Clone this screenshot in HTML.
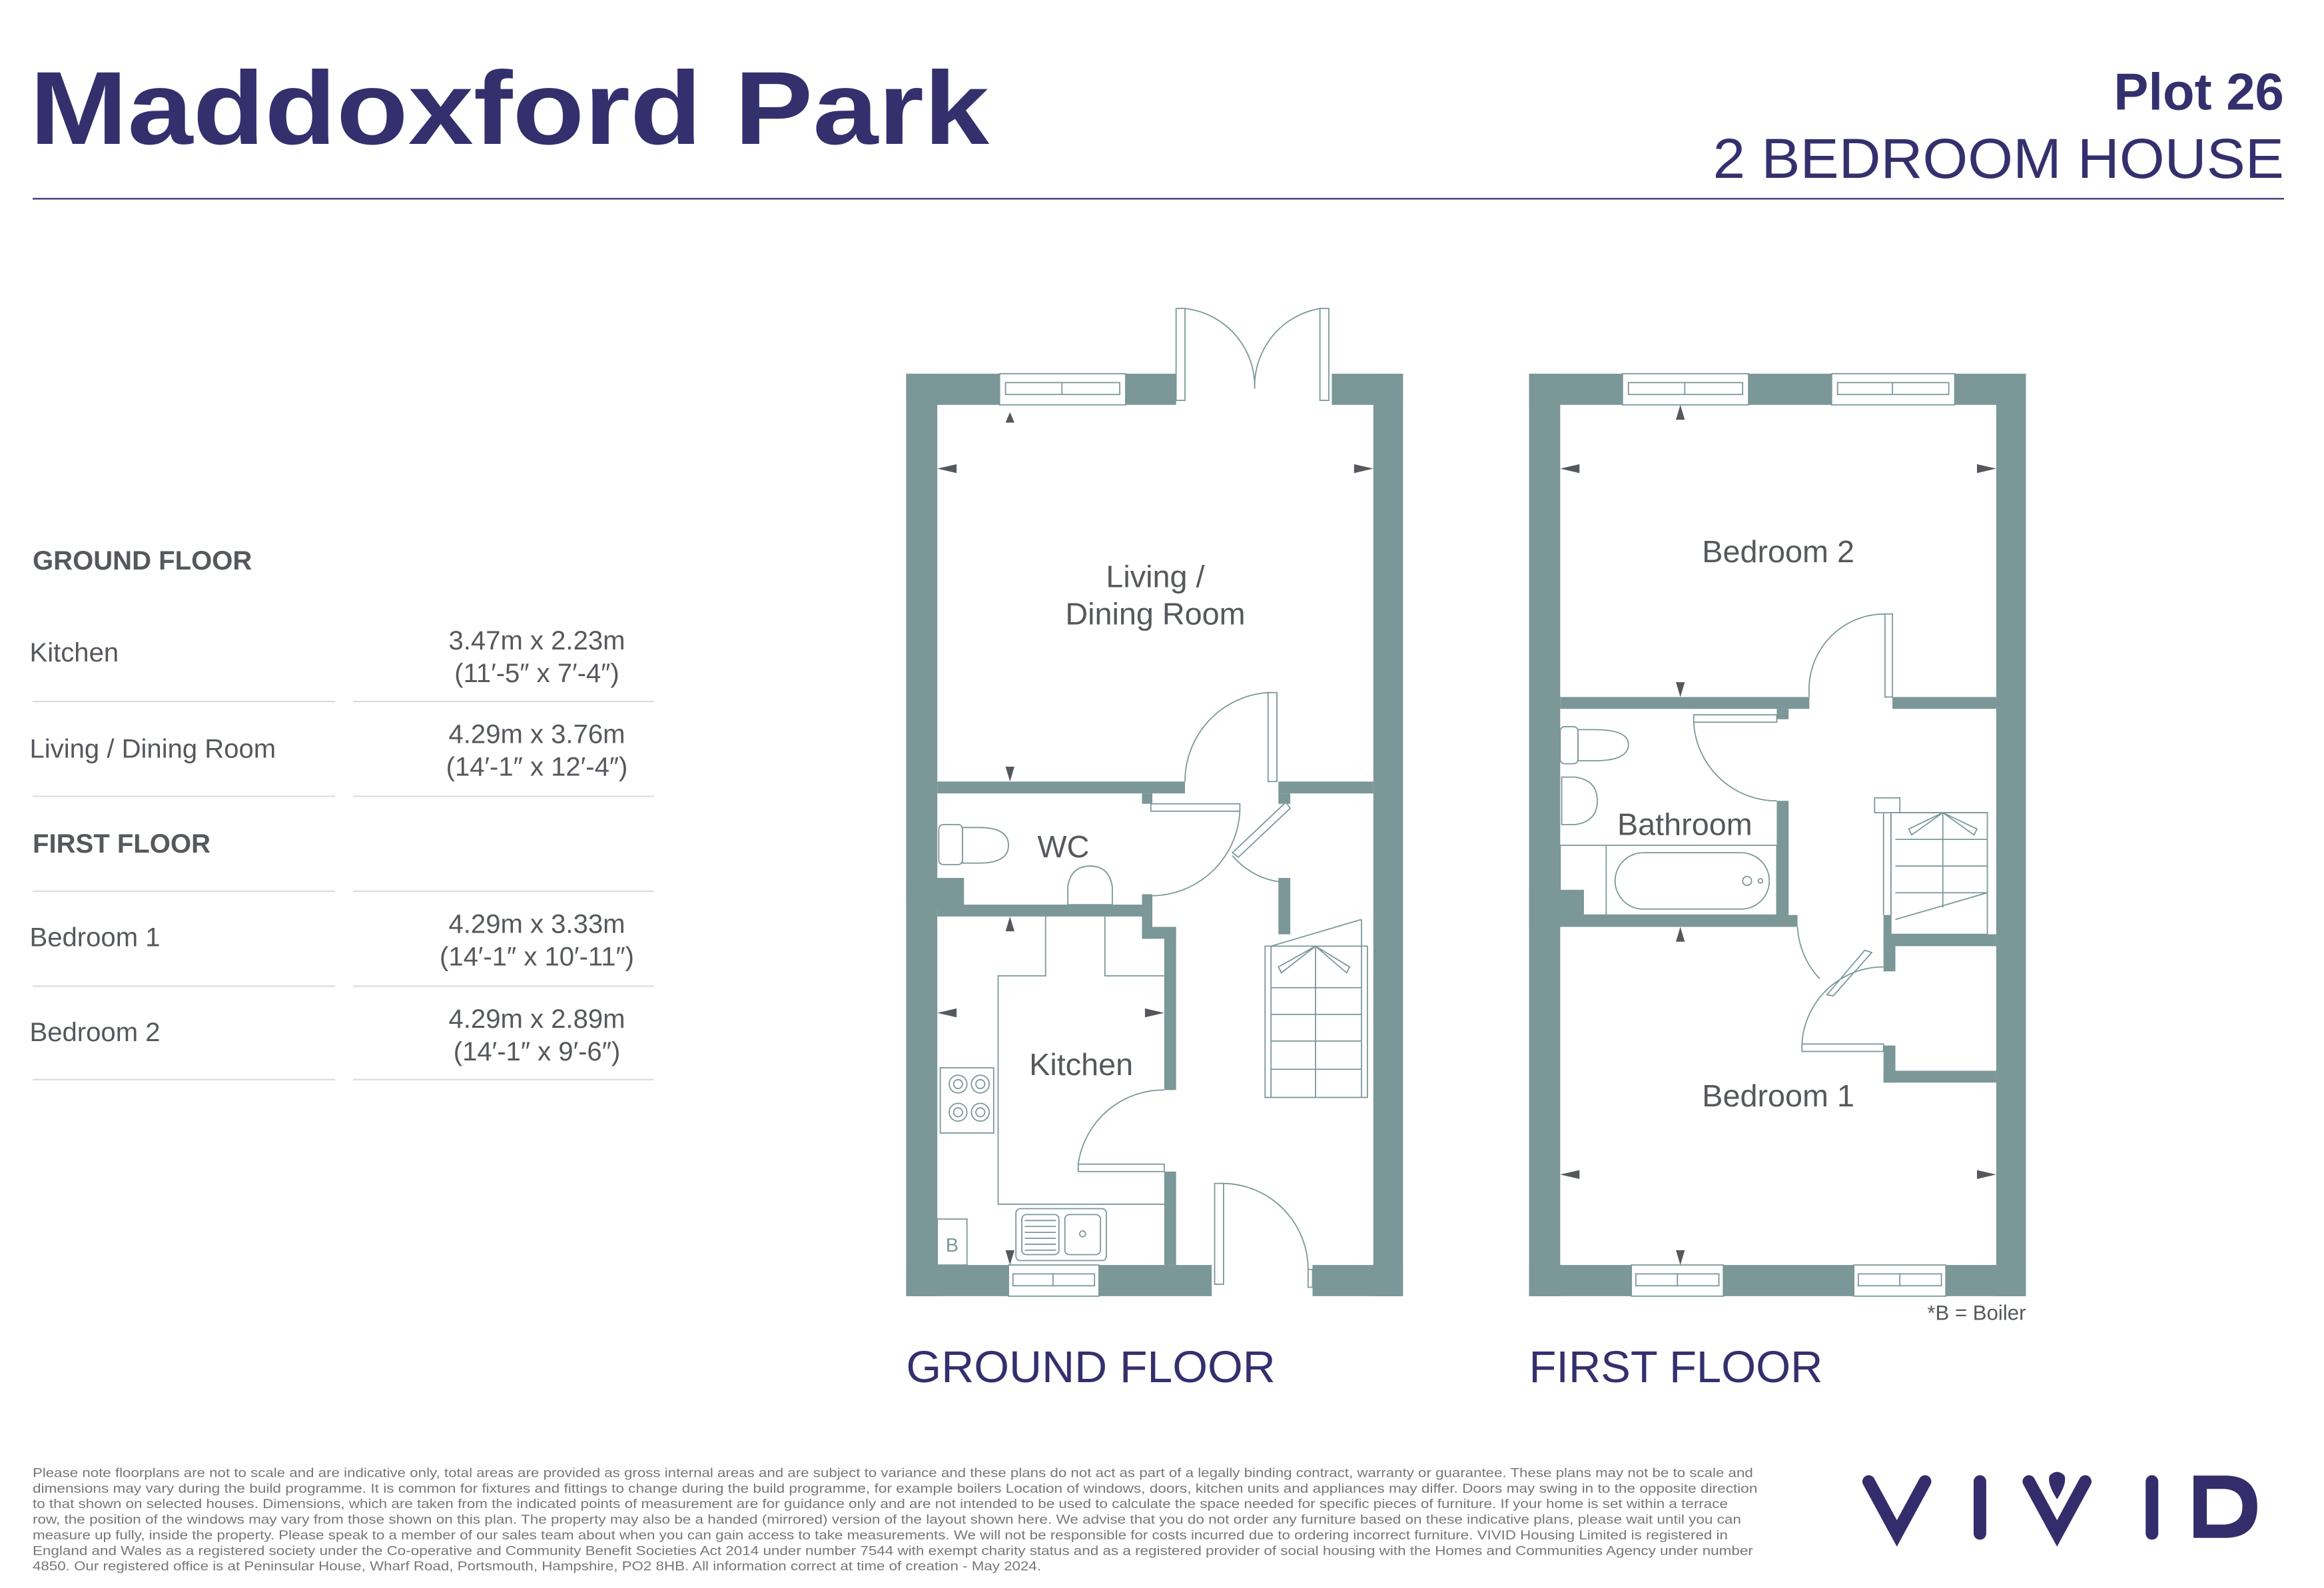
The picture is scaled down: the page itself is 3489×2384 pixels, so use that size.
<!DOCTYPE html>
<html><head><meta charset="utf-8"><style>html,body{margin:0;padding:0;background:#fff}svg{display:block}</style></head>
<body>
<svg xmlns="http://www.w3.org/2000/svg" width="3489" height="2384" viewBox="0 0 1567 1070.8" preserveAspectRatio="none">
<defs>
<style>
.w{fill:#7b9797}
.l{fill:none;stroke:#7b9797;stroke-width:0.8}
.lw{fill:#fff;stroke:#7b9797;stroke-width:0.8}
.a{fill:#55585c}
.t{font-family:"Liberation Sans",sans-serif;fill:#55585c}
.n{font-family:"Liberation Sans",sans-serif;fill:#34306e}
</style>
</defs>
<rect width="1570" height="1072" fill="#fff"/>
<text class="n" x="20" y="97" font-size="70" font-weight="bold" textLength="647" lengthAdjust="spacingAndGlyphs">Maddoxford Park</text>
<text class="n" x="1540" y="74" font-size="35" font-weight="bold" text-anchor="end">Plot 26</text>
<text class="n" x="1540" y="120" font-size="38" text-anchor="end" textLength="385" lengthAdjust="spacingAndGlyphs">2 BEDROOM HOUSE</text>
<line x1="22" y1="134" x2="1540" y2="134" stroke="#34306e" stroke-width="1"/>

<g class="t" font-size="18">
<text x="22" y="384" font-weight="bold" font-size="18">GROUND FLOOR</text>
<text x="20" y="446">Kitchen</text>
<text x="362" y="438" text-anchor="middle">3.47m x 2.23m</text>
<text x="362" y="460" text-anchor="middle">(11′-5″ x 7′-4″)</text>
<text x="20" y="511">Living / Dining Room</text>
<text x="362" y="501" text-anchor="middle">4.29m x 3.76m</text>
<text x="362" y="523" text-anchor="middle">(14′-1″ x 12′-4″)</text>
<text x="22" y="575" font-weight="bold">FIRST FLOOR</text>
<text x="20" y="638">Bedroom 1</text>
<text x="362" y="629" text-anchor="middle">4.29m x 3.33m</text>
<text x="362" y="651" text-anchor="middle">(14′-1″ x 10′-11″)</text>
<text x="20" y="702">Bedroom 2</text>
<text x="362" y="693" text-anchor="middle">4.29m x 2.89m</text>
<text x="362" y="715" text-anchor="middle">(14′-1″ x 9′-6″)</text>
</g>
<g stroke="#ddd" stroke-width="1">
<line x1="22" y1="473" x2="226" y2="473"/><line x1="238" y1="473" x2="441" y2="473"/>
<line x1="22" y1="537" x2="226" y2="537"/><line x1="238" y1="537" x2="441" y2="537"/>
<line x1="22" y1="601" x2="226" y2="601"/><line x1="238" y1="601" x2="441" y2="601"/>
<line x1="22" y1="665" x2="226" y2="665"/><line x1="238" y1="665" x2="441" y2="665"/>
<line x1="22" y1="728" x2="226" y2="728"/><line x1="238" y1="728" x2="441" y2="728"/>
</g>

<g>
<rect class="w" x="611" y="252" width="182" height="21"/>
<rect class="w" x="898" y="252" width="48" height="21"/>
<rect class="w" x="611" y="252" width="21" height="622"/>
<rect class="w" x="926" y="252" width="20" height="622"/>
<rect class="w" x="611" y="853" width="206" height="21"/>
<rect class="w" x="885" y="853" width="61" height="21"/>
<rect class="lw" x="674" y="252" width="85" height="21"/>
<rect class="l" x="678" y="258" width="77" height="8"/><line class="l" x1="716" y1="258" x2="716" y2="266"/>
<rect class="lw" x="680" y="853" width="61" height="21"/>
<rect class="l" x="683" y="859" width="55" height="8"/><line class="l" x1="710" y1="859" x2="710" y2="867"/>
<rect class="lw" x="793" y="208" width="6" height="62"/>
<rect class="lw" x="890" y="208" width="6" height="62"/>
<path class="l" d="M799 208 A53 53 0 0 1 846 262"/>
<path class="l" d="M890 208 A53 53 0 0 0 846 262"/>
<rect class="w" x="632" y="527" width="167" height="8"/>
<rect class="w" x="862" y="527" width="64" height="8"/>
<rect class="w" x="770" y="535" width="7" height="7"/>
<rect class="w" x="862" y="535" width="8" height="7"/>
<rect class="lw" x="855" y="467" width="6" height="60"/>
<path class="l" d="M855 467 A60 60 0 0 0 799 527"/>
<rect class="lw" x="776" y="542" width="60" height="5"/>
<path class="l" d="M836 547 A60 60 0 0 1 776 604"/>
<path class="lw" d="M867 541 L870 545 L835 578 L831 575 Z"/>
<path class="l" d="M831 577 A50 50 0 0 0 868 595"/>
<rect class="w" x="862" y="592" width="8" height="38"/>
<rect class="w" x="611" y="592" width="39" height="20"/>
<rect class="w" x="632" y="610" width="145" height="8"/>
<rect class="w" x="770" y="603" width="7" height="30"/>
<rect class="w" x="770" y="625" width="23" height="8"/>
<rect class="w" x="785" y="625" width="8" height="110"/>
<rect class="w" x="785" y="790" width="8" height="63"/>
<rect class="lw" x="727" y="785" width="58" height="5"/>
<path class="l" d="M727 785 A58 58 0 0 1 785 735"/>
<rect class="lw" x="819" y="798" width="6" height="68"/>
<path class="l" d="M825 798 A58 58 0 0 1 882 856"/>
<rect class="lw" x="882" y="856" width="3" height="12"/>
<path class="l" d="M785 812 L673 812 L673 658 L705 658 L705 618 M745 618 L745 658 L785 658"/>
<rect class="lw" x="634" y="720" width="36" height="44"/>
<circle class="l" cx="646" cy="731" r="6"/><circle class="l" cx="646" cy="731" r="3"/>
<circle class="l" cx="661" cy="731" r="6"/><circle class="l" cx="661" cy="731" r="3"/>
<circle class="l" cx="646" cy="750" r="6"/><circle class="l" cx="646" cy="750" r="3"/>
<circle class="l" cx="661" cy="750" r="6"/><circle class="l" cx="661" cy="750" r="3"/>
<rect class="lw" x="632" y="822" width="20" height="31"/>
<text x="642" y="844" font-family="Liberation Sans,sans-serif" font-size="13" fill="#7b9797" text-anchor="middle">B</text>
<rect class="lw" x="685" y="815" width="61" height="35" rx="3"/>
<rect class="l" x="689" y="819" width="25" height="27" rx="3"/>
<rect class="l" x="718" y="819" width="24" height="27" rx="3"/>
<g class="l"><line x1="691" y1="823" x2="712" y2="823"/><line x1="691" y1="827" x2="712" y2="827"/><line x1="691" y1="831" x2="712" y2="831"/><line x1="691" y1="835" x2="712" y2="835"/><line x1="691" y1="839" x2="712" y2="839"/><line x1="691" y1="843" x2="712" y2="843"/></g>
<circle class="l" cx="730" cy="832" r="2"/>
<rect class="lw" x="633" y="556" width="16" height="27" rx="3"/>
<path class="lw" d="M649 558 L660 558 Q680 558 680 570 Q680 582 660 582 L649 582 Z"/>
<path class="lw" d="M720 610 L720 598 Q722 584 735 584 Q748 584 750 598 L750 610 Z"/>
<rect class="lw" x="853" y="638" width="69" height="102"/>
<line class="l" x1="857" y1="638" x2="857" y2="740"/>
<line class="l" x1="918" y1="620" x2="918" y2="740"/>
<line class="l" x1="857" y1="638" x2="918" y2="620"/>
<line class="l" x1="887" y1="638" x2="887" y2="740"/>
<g class="l"><line x1="857" y1="666" x2="918" y2="666"/><line x1="857" y1="684" x2="918" y2="684"/><line x1="857" y1="702" x2="918" y2="702"/><line x1="857" y1="721" x2="918" y2="721"/></g>
<path class="l" d="M887 638 L862 652 L864 656 Z M887 638 L910 652 L908 656 Z"/>
<path class="a" d="M681 285 L678 278 L684 278 Z" transform="rotate(180 681 281.5)"/>
<path class="a" d="M678 527 L684 527 L681 517 Z" transform="rotate(180 681 522)"/>
<path class="a" d="M632 316 L645 313 L645 319 Z"/>
<path class="a" d="M926 316 L913 313 L913 319 Z"/>
<path class="a" d="M681 618 L678 628 L684 628 Z"/>
<path class="a" d="M681 853 L678 843 L684 843 Z"/>
<path class="a" d="M632 683 L645 680 L645 686 Z"/>
<path class="a" d="M785 683 L772 680 L772 686 Z"/>
<text class="t" x="779" y="396" font-size="21" text-anchor="middle">Living /</text>
<text class="t" x="779" y="421" font-size="21" text-anchor="middle">Dining Room</text>
<text class="t" x="717" y="578" font-size="21" text-anchor="middle">WC</text>
<text class="t" x="729" y="725" font-size="21" text-anchor="middle">Kitchen</text>
</g>

<g>
<rect class="w" x="1031" y="252" width="335" height="21"/>
<rect class="w" x="1031" y="252" width="21" height="622"/>
<rect class="w" x="1346" y="252" width="20" height="622"/>
<rect class="w" x="1031" y="853" width="335" height="21"/>
<rect class="lw" x="1094" y="252" width="85" height="21"/>
<rect class="l" x="1098" y="258" width="77" height="8"/><line class="l" x1="1136" y1="258" x2="1136" y2="266"/>
<rect class="lw" x="1235" y="252" width="83" height="21"/>
<rect class="l" x="1239" y="258" width="75" height="8"/><line class="l" x1="1276" y1="258" x2="1276" y2="266"/>
<rect class="lw" x="1100" y="853" width="62" height="21"/>
<rect class="l" x="1103" y="859" width="56" height="8"/><line class="l" x1="1131" y1="859" x2="1131" y2="867"/>
<rect class="lw" x="1250" y="853" width="62" height="21"/>
<rect class="l" x="1253" y="859" width="56" height="8"/><line class="l" x1="1281" y1="859" x2="1281" y2="867"/>
<rect class="w" x="1052" y="470" width="168" height="8"/>
<rect class="w" x="1276" y="470" width="70" height="8"/>
<rect class="w" x="1198" y="478" width="8" height="7"/>
<rect class="lw" x="1271" y="414" width="5" height="56"/>
<path class="l" d="M1271 414 A51 51 0 0 0 1220 470"/>
<rect class="lw" x="1142" y="482" width="56" height="5"/>
<path class="l" d="M1142 487 A56 56 0 0 0 1198 540"/>
<rect class="w" x="1198" y="540" width="8" height="85"/>
<rect class="w" x="1031" y="600" width="37" height="25"/>
<rect class="w" x="1031" y="617" width="181" height="8"/>
<rect class="lw" x="1052" y="490" width="12" height="25" rx="3"/>
<path class="lw" d="M1064 492 L1075 492 Q1098 492 1098 502 Q1098 513 1075 513 L1064 513 Z"/>
<path class="lw" d="M1053 524 L1062 524 Q1077 526 1077 540 Q1077 554 1062 556 L1053 556 Z"/>
<rect class="l" x="1052" y="570" width="146" height="47"/>
<line class="l" x1="1083" y1="570" x2="1083" y2="617"/>
<rect class="l" x="1089" y="575" width="104" height="38" rx="19"/>
<circle class="l" cx="1187" cy="594" r="1.5"/><circle class="l" cx="1178" cy="594" r="3"/>
<path class="l" d="M1212 625 A55 55 0 0 0 1227 660"/>
<path class="lw" d="M1264 650 L1267 654 L1229 663 L1226 660 Z" transform="rotate(-35 1246 656)"/>
<rect class="w" x="1270" y="617" width="8" height="38"/>
<rect class="w" x="1270" y="630" width="76" height="8"/>
<rect class="w" x="1270" y="705" width="8" height="25"/>
<rect class="w" x="1270" y="722" width="76" height="8"/>
<rect class="lw" x="1215" y="704" width="55" height="5"/>
<path class="l" d="M1215 704 A55 55 0 0 1 1270 652"/>
<rect class="lw" x="1264" y="538" width="17" height="10"/>
<rect class="lw" x="1275" y="548" width="65" height="82"/>
<line class="l" x1="1270" y1="548" x2="1270" y2="617"/><line class="l" x1="1275" y1="548" x2="1275" y2="617"/>
<line class="l" x1="1281" y1="548" x2="1340" y2="548"/>
<g class="l"><line x1="1278" y1="566" x2="1340" y2="566"/><line x1="1278" y1="584" x2="1340" y2="584"/><line x1="1278" y1="602" x2="1340" y2="602"/><line x1="1310" y1="548" x2="1310" y2="612"/><line x1="1278" y1="620" x2="1340" y2="602"/></g>
<path class="l" d="M1310 548 L1287 559 L1289 563 Z M1310 548 L1333 559 L1331 563 Z"/>
<path class="a" d="M1133 273 L1130 283 L1136 283 Z"/>
<path class="a" d="M1133 470 L1130 460 L1136 460 Z"/>
<path class="a" d="M1052 316 L1065 313 L1065 319 Z"/>
<path class="a" d="M1346 316 L1333 313 L1333 319 Z"/>
<path class="a" d="M1133 625 L1130 635 L1136 635 Z"/>
<path class="a" d="M1133 853 L1130 843 L1136 843 Z"/>
<path class="a" d="M1052 792 L1065 789 L1065 795 Z"/>
<path class="a" d="M1346 792 L1333 789 L1333 795 Z"/>
<text class="t" x="1199" y="379" font-size="21" text-anchor="middle">Bedroom 2</text>
<text class="t" x="1136" y="563" font-size="21" text-anchor="middle">Bathroom</text>
<text class="t" x="1199" y="746" font-size="21" text-anchor="middle">Bedroom 1</text>
</g>
<text class="t" x="1366" y="890" font-size="14" text-anchor="end">*B = Boiler</text>
<text class="n" x="611" y="932" font-size="30" textLength="249" lengthAdjust="spacingAndGlyphs">GROUND FLOOR</text>
<text class="n" x="1031" y="932" font-size="30" textLength="198" lengthAdjust="spacingAndGlyphs">FIRST FLOOR</text>

<g font-family="Liberation Sans,sans-serif" font-size="8.8" fill="#77777b">
<text x="22" y="996" textLength="1160" lengthAdjust="spacingAndGlyphs">Please note floorplans are not to scale and are indicative only, total areas are provided as gross internal areas and are subject to variance and these plans do not act as part of a legally binding contract, warranty or guarantee. These plans may not be to scale and</text>
<text x="22" y="1006.5" textLength="1163" lengthAdjust="spacingAndGlyphs">dimensions may vary during the build programme. It is common for fixtures and fittings to change during the build programme, for example boilers Location of windows, doors, kitchen units and appliances may differ. Doors may swing in to the opposite direction</text>
<text x="22" y="1017" textLength="1143" lengthAdjust="spacingAndGlyphs">to that shown on selected houses. Dimensions, which are taken from the indicated points of measurement are for guidance only and are not intended to be used to calculate the space needed for specific pieces of furniture. If your home is set within a terrace</text>
<text x="22" y="1027.5" textLength="1152" lengthAdjust="spacingAndGlyphs">row, the position of the windows may vary from those shown on this plan. The property may also be a handed (mirrored) version of the layout shown here. We advise that you do not order any furniture based on these indicative plans, please wait until you can</text>
<text x="22" y="1038" textLength="1143" lengthAdjust="spacingAndGlyphs">measure up fully, inside the property. Please speak to a member of our sales team about when you can gain access to take measurements. We will not be responsible for costs incurred due to ordering incorrect furniture. VIVID Housing Limited is registered in</text>
<text x="22" y="1048.5" textLength="1160" lengthAdjust="spacingAndGlyphs">England and Wales as a registered society under the Co-operative and Community Benefit Societies Act 2014 under number 7544 with exempt charity status and as a registered provider of social housing with the Homes and Communities Agency under number</text>
<text x="22" y="1059" textLength="680" lengthAdjust="spacingAndGlyphs">4850. Our registered office is at Peninsular House, Wharf Road, Portsmouth, Hampshire, PO2 8HB. All information correct at time of creation - May 2024.</text>
</g>

<g stroke="#352c6b" stroke-width="8.5" stroke-linecap="round" fill="none">
<path d="M1260 999 L1279 1034 L1298 999"/>
<path d="M1335 999 L1335 1034"/>
<path d="M1368 999 L1387 1034 L1406 999"/>
<path d="M1451 999 L1451 1034"/>
</g>
<path d="M1382 995 Q1387 990 1392 995 Q1394 1000 1387 1011 Q1380 1000 1382 995 Z" fill="#352c6b"/>
<path d="M1479 995 L1502 995 Q1522 996 1522 1016 Q1522 1036 1502 1037 L1479 1037 Z M1488 1004 L1488 1028 L1500 1028 Q1512 1027 1512 1016 Q1512 1005 1500 1004 Z" fill="#352c6b" fill-rule="evenodd"/>
</svg>
</body></html>
